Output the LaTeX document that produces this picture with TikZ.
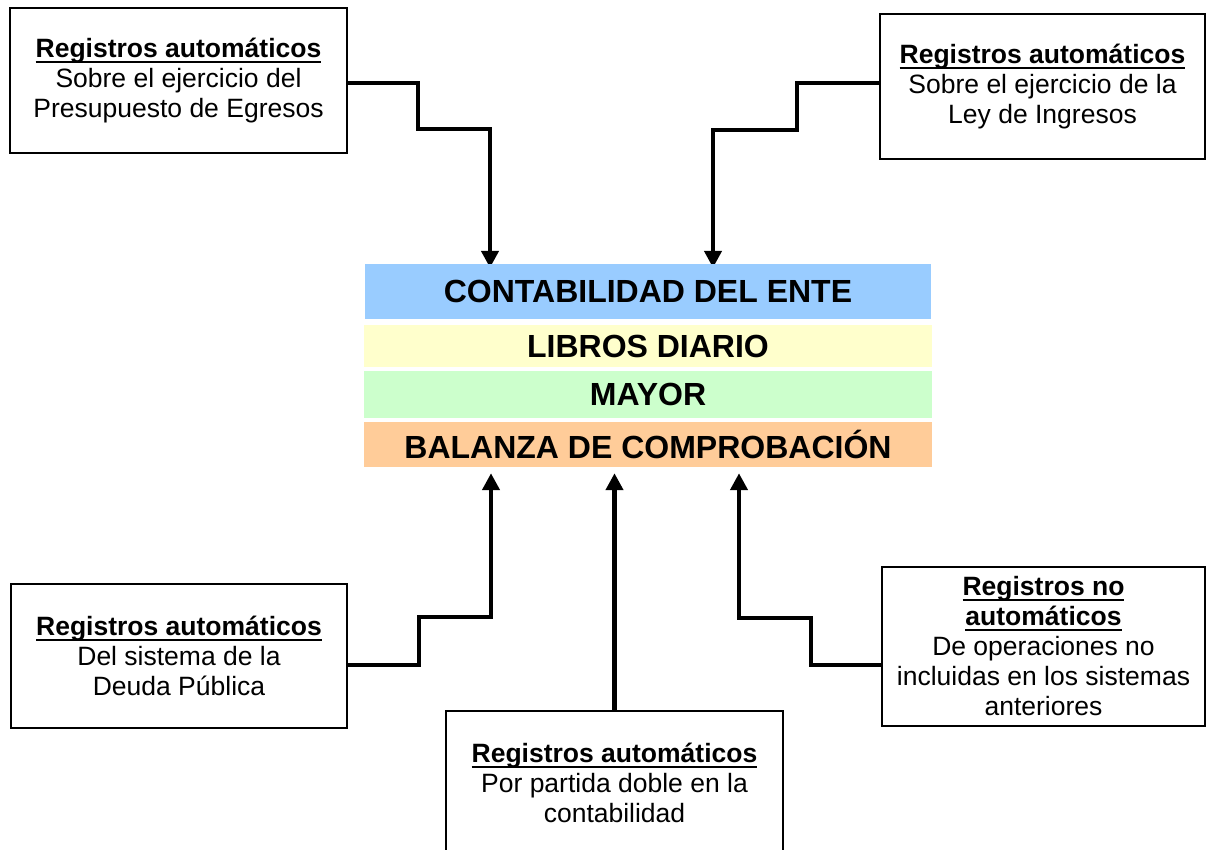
\documentclass[tikz,border=0pt]{standalone}
\usepackage{fontspec}
\setmainfont{Liberation Sans}
\usepackage{tikz}
\usetikzlibrary{arrows.meta}
\pgfdeclarelayer{edgelayer}
\pgfdeclarelayer{nodelayer}
\pgfsetlayers{edgelayer,nodelayer,main}
\definecolor{lblue}{HTML}{99CCFF}
\definecolor{lyellow}{HTML}{FFFFCC}
\definecolor{lgreen}{HTML}{CCFFCC}
\definecolor{lorange}{HTML}{FFCC99}
\newcommand{\regtitle}[1]{{\bfseries\setbox0=\hbox{#1}\rlap{\rule[-5.5pt]{\wd0}{2pt}}\box0}}
\tikzstyle{none}=[inner sep=0pt]
\tikzstyle{regbox}=[rectangle,draw=black,line width=1.5,inner sep=0pt,align=center,font=\fontsize{26.5}{30}\selectfont]
\tikzstyle{bar}=[rectangle,inner sep=0pt,minimum width=568,font=\fontsize{32}{36}\selectfont\bfseries]
\tikzstyle{flow}=[-{Triangle[length=17pt,width=17pt]},line width=4.5,line join=miter]

\begin{document}
\begin{tikzpicture}[x=1pt,y=-1pt]
	\useasboundingbox (0,0) rectangle (1206,850);
	\begin{pgfonlayer}{nodelayer}
		\node [style=bar,fill=lblue,minimum width=566,minimum height=55] (ente) at (648, 291.5) {CONTABILIDAD DEL ENTE};
		\node [style=bar,fill=lyellow,minimum height=42] (libros) at (648, 346) {LIBROS DIARIO};
		\node [style=bar,fill=lgreen,minimum height=47] (mayor) at (648, 394.5) {MAYOR};
		\node [style=bar,fill=lorange,minimum height=45] (balanza) at (648, 444.5) {BALANZA DE COMPROBACIÓN};

		\node [style=regbox,minimum width=337,minimum height=145] (egresos) at (178.5, 80.5)
			{\regtitle{Registros automáticos}\\Sobre el ejercicio del\\Presupuesto de Egresos};
		\node [style=regbox,minimum width=325,minimum height=145] (ingresos) at (1042.5, 86.5)
			{\regtitle{Registros automáticos}\\Sobre el ejercicio de la\\Ley de Ingresos};
		\node [style=regbox,minimum width=336,minimum height=144] (deuda) at (179, 656)
			{\regtitle{Registros automáticos}\\Del sistema de la\\Deuda Pública};
		\node [style=regbox,minimum width=337,minimum height=144] (partida) at (614.5, 783)
			{\regtitle{Registros automáticos}\\Por partida doble en la\\contabilidad};
		\node [style=regbox,minimum width=323,minimum height=159] (otras) at (1043.5, 646.5)
			{\regtitle{Registros no}\\\regtitle{automáticos}\\De operaciones no\\incluidas en los sistemas\\anteriores};

		% bends
		\node [style=none] (e1) at (418, 83) {};
		\node [style=none] (e2) at (418, 129) {};
		\node [style=none] (e3) at (490, 129) {};
		\node [style=none] (i1) at (797, 83) {};
		\node [style=none] (i2) at (797, 130) {};
		\node [style=none] (i3) at (713, 130) {};
		\node [style=none] (d1) at (419, 665) {};
		\node [style=none] (d2) at (419, 617) {};
		\node [style=none] (d3) at (491, 617) {};
		\node [style=none] (o1) at (811, 665) {};
		\node [style=none] (o2) at (811, 618) {};
		\node [style=none] (o3) at (739, 618) {};
	\end{pgfonlayer}
	\begin{pgfonlayer}{edgelayer}
		\draw [style=flow,shorten >=-4pt] (egresos.east |- e1) -- (e1.center) -- (e2.center) -- (e3.center) -- (e3 |- ente.north);
		\draw [style=flow,shorten >=-4pt] (ingresos.west |- i1) -- (i1.center) -- (i2.center) -- (i3.center) -- (i3 |- ente.north);
		\draw [style=flow,shorten >=6pt] (deuda.east |- d1) -- (d1.center) -- (d2.center) -- (d3.center) -- (d3 |- balanza.south);
		\draw [style=flow,shorten >=6pt] (partida.north) -- (partida.north |- balanza.south);
		\draw [style=flow,shorten >=6pt] (otras.west |- o1) -- (o1.center) -- (o2.center) -- (o3.center) -- (o3 |- balanza.south);
	\end{pgfonlayer}
\end{tikzpicture}
\end{document}
